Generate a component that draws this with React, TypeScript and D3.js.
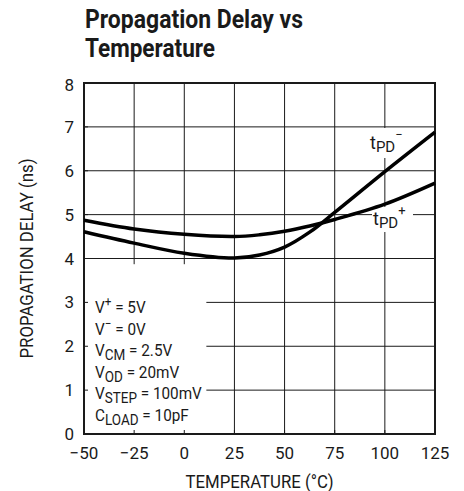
import React from 'react';
import * as d3 from 'd3';

// chart data
const temps = [-50, -25, 0, 25, 37.5, 50, 62.5, 75, 100, 125];
const tpdPlus = [4.87, 4.67, 4.55, 4.5, 4.54, 4.62, 4.74, 4.89, 5.24, 5.72];
const tpdMinus = [4.61, 4.35, 4.12, 4.01, 4.08, 4.26, 4.6, 5.05, 5.98, 6.88];
const xTicks = [-50, -25, 0, 25, 50, 75, 100, 125];
const yTicks = [0, 1, 2, 3, 4, 5, 6, 7, 8];

const W = 464;
const H = 491;
const margin = { top: 83, right: 29, bottom: 57, left: 84 };
const FONT = 'Roboto, "Liberation Sans", sans-serif';
const INK = '#1a1a1a';

const App = () => {
  const x = d3.scaleLinear().domain([-50, 125]).range([margin.left, W - margin.right]);
  const y = d3.scaleLinear().domain([0, 8]).range([H - margin.bottom, margin.top]);

  const line = d3
    .line<number>()
    .x((_, i) => x(temps[i]))
    .y((d) => y(d))
    .curve(d3.curveCatmullRom.alpha(0.5));

  const x0 = x(-50);
  const x1 = x(125);
  const y0 = y(0);
  const y1 = y(8);

  // white boxes that hide the grid behind labels
  const legendBox = { x: x0, y: y(3.87), w: x(11) - x0, h: y0 - y(3.87) };

  return (
    <svg
      width={W}
      height={H}
      style={{ position: 'absolute', left: 0, top: 0, background: '#fff' }}
      fontFamily={FONT}
    >
      {/* title */}
      <text x={85} y={28} fontSize={25} fontWeight="bold" fill={INK} textLength={218} lengthAdjust="spacingAndGlyphs">
        Propagation Delay vs
      </text>
      <text x={85} y={57} fontSize={25} fontWeight="bold" fill={INK} textLength={130} lengthAdjust="spacingAndGlyphs">
        Temperature
      </text>

      {/* grid */}
      <g stroke={INK} strokeWidth={1}>
        {xTicks.slice(1, -1).map((t) => (
          <line key={'gx' + t} x1={x(t)} x2={x(t)} y1={y1} y2={y0} />
        ))}
        {yTicks.slice(1, -1).map((t) => (
          <line key={'gy' + t} x1={x0} x2={x1} y1={y(t)} y2={y(t)} />
        ))}
      </g>

      {/* label knockouts */}
      <rect x={legendBox.x} y={legendBox.y} width={legendBox.w} height={legendBox.h} fill="#fff" />
      <rect x={368} y={128} width={34} height={30} fill="#fff" />
      <rect x={372} y={207} width={41} height={25} fill="#fff" />

      {/* inner ticks */}
      <g stroke={INK} strokeWidth={1}>
        {xTicks.map((t) => (
          <line key={'tx' + t} x1={x(t)} x2={x(t)} y1={y0} y2={y0 - 4} />
        ))}
        {yTicks.map((t) => (
          <line key={'ty' + t} x1={x0} x2={x0 + 4} y1={y(t)} y2={y(t)} />
        ))}
      </g>

      {/* frame */}
      <rect x={x0} y={y1} width={x1 - x0} height={y0 - y1} fill="none" stroke={INK} strokeWidth={2} />

      {/* curves */}
      <path d={line(tpdPlus) || ''} fill="none" stroke="#000" strokeWidth={3.5} />
      <path d={line(tpdMinus) || ''} fill="none" stroke="#000" strokeWidth={3.5} />

      {/* tick labels */}
      <g fontSize={17} fill={INK}>
        {xTicks.map((t) => (
          <text key={'lx' + t} x={x(t)} y={459} textAnchor="middle">
            {t < 0 ? '\u2212' + Math.abs(t) : t}
          </text>
        ))}
        {yTicks.map((t) => (
          <text key={'ly' + t} x={74} y={y(t) + (t === 8 ? 8 : 6)} textAnchor="end">
            {t}
          </text>
        ))}
      </g>

      {/* axis titles */}
      <text x={(x0 + x1) / 2} y={488} textAnchor="middle" fontSize={17.5} fill={INK} textLength={148} lengthAdjust="spacingAndGlyphs">
        TEMPERATURE (°C)
      </text>
      <text
        transform={`translate(33, ${(y0 + y1) / 2}) rotate(-90)`}
        textAnchor="middle"
        fontSize={17.5}
        fill={INK}
        textLength={200}
        lengthAdjust="spacingAndGlyphs"
      >
        PROPAGATION DELAY (ns)
      </text>

      {/* curve labels */}
      <text x={370} y={149} fontSize={18} fill={INK}>
        t<tspan fontSize={15} dy={3}>PD</tspan>
        <tspan fontSize={13} dy={-13}>{'\u2212'}</tspan>
      </text>
      <text x={373} y={225} fontSize={18} fill={INK}>
        t<tspan fontSize={15} dy={3}>PD</tspan>
        <tspan fontSize={13} dy={-13}>+</tspan>
      </text>

      {/* conditions */}
      <g fontSize={17} fill={INK} transform="translate(95,0) scale(0.9,1)">
        <text x={0} y={313}>
          V<tspan fontSize={13} dy={-7}>+</tspan>
          <tspan dy={7}> = 5V</tspan>
        </text>
        <text x={0} y={335}>
          V<tspan fontSize={13} dy={-7}>{'\u2212'}</tspan>
          <tspan dy={7}> = 0V</tspan>
        </text>
        <text x={0} y={356}>
          V<tspan fontSize={15} dy={4}>CM</tspan>
          <tspan dy={-4}> = 2.5V</tspan>
        </text>
        <text x={0} y={378}>
          V<tspan fontSize={15} dy={4}>OD</tspan>
          <tspan dy={-4}> = 20mV</tspan>
        </text>
        <text x={0} y={399}>
          V<tspan fontSize={15} dy={4}>STEP</tspan>
          <tspan dy={-4}> = 100mV</tspan>
        </text>
        <text x={0} y={421}>
          C<tspan fontSize={15} dy={4}>LOAD</tspan>
          <tspan dy={-4}> = 10pF</tspan>
        </text>
      </g>
    </svg>
  );
};

export default App;
